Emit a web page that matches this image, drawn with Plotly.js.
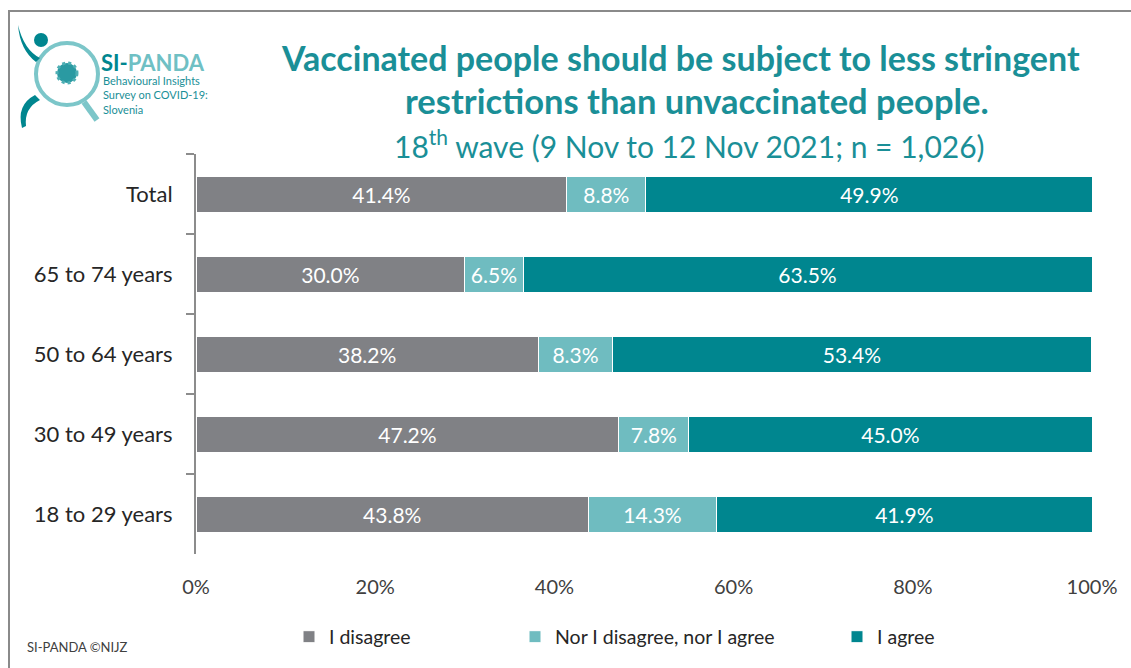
<!DOCTYPE html>
<html>
<head>
<meta charset="utf-8">
<script src="https://cdn.plot.ly/plotly-3.0.1.min.js"></script>
<style>
  html, body { margin: 0; padding: 0; background: #ffffff; }
  #chart { width: 1131px; height: 668px; }
</style>
</head>
<body>
<div id="chart"></div>
<script>
// ---------- data ----------
const categories = ["Total", "65 to 74 years", "50 to 64 years", "30 to 49 years", "18 to 29 years"];
const disagree = [41.4, 30.0, 38.2, 47.2, 43.8];
const neutral  = [8.8, 6.5, 8.3, 7.8, 14.3];
const agree    = [49.9, 63.5, 53.4, 45.0, 41.9];
const seriesNames = ["I disagree", "Nor I disagree, nor I agree", "I agree"];
const xTickVals = [0, 20, 40, 60, 80, 100];
const xTickText = ["0%", "20%", "40%", "60%", "80%", "100%"];

// ---------- styling ----------
const FONT = "Lato, 'Open Sans', 'Noto Sans', sans-serif";
const C_GREY = "#808185";
const C_LIGHT = "#6FBCC0";
const C_DARK = "#00868F";
const C_TITLE = "#1A8F97";

const W = 1131, H = 668;
const L = 196, R = 1092, T = 154, B = 554;
const px = x => (x - L) / (R - L);
const py = y => (B - y) / (B - T);

function barTrace(vals, name, color, legendId) {
  return {
    type: "bar", orientation: "h",
    x: vals, y: categories, name: name,
    marker: { color: color, line: { color: "#ffffff", width: 1 } },
    width: 0.45,
    texttemplate: "%{x:.1f}%",
    textposition: "inside",
    insidetextanchor: "middle",
    constraintext: "none",
    textfont: { color: "#ffffff", size: 21, family: FONT },
    hoverinfo: "skip",
    legend: legendId
  };
}

const data = [
  barTrace(disagree, seriesNames[0], C_GREY, "legend"),
  barTrace(neutral, seriesNames[1], C_LIGHT, "legend2"),
  barTrace(agree, seriesNames[2], C_DARK, "legend3")
];

const legendBase = {
  orientation: "h", yanchor: "middle", xanchor: "left",
  bgcolor: "rgba(0,0,0,0)",
  font: { family: FONT, size: 19.5, color: "#262626" },
  itemwidth: 30, tracegroupgap: 0
};

const layout = {
  width: W, height: H,
  paper_bgcolor: "#ffffff", plot_bgcolor: "#ffffff",
  margin: { l: L, r: W - R, t: T, b: H - B, pad: 0 },
  barmode: "stack",
  font: { family: FONT, color: "#404040" },
  xaxis: {
    range: [0, 100], tickvals: xTickVals, ticktext: xTickText,
    showgrid: false, zeroline: false, showline: false,
    ticks: "", ticklabelstandoff: 19,
    tickfont: { family: FONT, size: 20, color: "#404040" },
    fixedrange: true
  },
  yaxis: {
    type: "category", categoryorder: "array", categoryarray: categories,
    autorange: "reversed",
    showgrid: false, zeroline: false,
    showline: true, linecolor: "#8C8C8C", linewidth: 2,
    ticks: "outside", tickson: "boundaries", ticklen: 8, tickcolor: "#8C8C8C", tickwidth: 2,
    ticklabelstandoff: 17,
    tickfont: { family: FONT, size: 22, color: "#262626" },
    fixedrange: true
  },
  showlegend: true,
  legend:  Object.assign({}, legendBase, { x: px(289), y: py(637) }),
  legend2: Object.assign({}, legendBase, { x: px(515), y: py(637) }),
  legend3: Object.assign({}, legendBase, { x: px(837), y: py(637) }),
  shapes: [
    // outer frame
    { type: "rect", xref: "paper", yref: "paper", x0: px(9), x1: px(1140), y0: py(11), y1: py(680),
      line: { color: "#8A8A8A", width: 2 }, fillcolor: "rgba(0,0,0,0)", layer: "below" },
    // logo: magnifier ring
    { type: "circle", xref: "paper", yref: "paper", x0: px(36), x1: px(98), y0: py(43), y1: py(105),
      line: { color: "#7CC6C9", width: 4 }, fillcolor: "rgba(0,0,0,0)" },
    // logo: handle
    { type: "line", xref: "paper", yref: "paper", x0: px(84), y0: py(102), x1: px(97), y1: py(120),
      line: { color: "#7CC6C9", width: 6 } },
    // logo: virus
    { type: "circle", xref: "paper", yref: "paper", x0: px(57), x1: px(77), y0: py(63), y1: py(83),
      line: { color: "#4FAFB4", width: 3, dash: "dot" }, fillcolor: "#2A9AA2" },
    // logo: figure head
    { type: "circle", xref: "paper", yref: "paper", x0: px(34), x1: px(48), y0: py(33), y1: py(47),
      fillcolor: C_DARK, line: { width: 0 } },
    // logo: raised arm
    { type: "path", xref: "paper", yref: "paper",
      path: "M" + px(18) + "," + py(25) + " Q" + px(24) + "," + py(50) + " " + px(40) + "," + py(58) +
            " L" + px(36) + "," + py(62) + " Q" + px(20) + "," + py(50) + " " + px(18) + "," + py(25) + " Z",
      fillcolor: C_DARK, line: { width: 0 } },
    // logo: leg
    { type: "path", xref: "paper", yref: "paper",
      path: "M" + px(35) + "," + py(95) + " Q" + px(16) + "," + py(105) + " " + px(22) + "," + py(128) +
            " L" + px(26) + "," + py(126) + " Q" + px(24) + "," + py(108) + " " + px(40) + "," + py(100) + " Z",
      fillcolor: C_DARK, line: { width: 0 } }
  ],
  annotations: [
    { xref: "paper", yref: "paper", x: px(680), y: py(57), xanchor: "center", yanchor: "middle",
      text: "<b>Vaccinated people should be subject to less stringent</b>", showarrow: false,
      font: { family: FONT, size: 34, color: C_TITLE } },
    { xref: "paper", yref: "paper", x: px(697), y: py(101), xanchor: "center", yanchor: "middle",
      text: "<b>restrictions than unvaccinated people.</b>", showarrow: false,
      font: { family: FONT, size: 34.5, color: C_TITLE } },
    { xref: "paper", yref: "paper", x: px(689), y: py(144), xanchor: "center", yanchor: "middle",
      text: "18<sup>th</sup> wave (9 Nov to 12 Nov 2021; n = 1,026)", showarrow: false,
      font: { family: FONT, size: 30, color: C_TITLE } },
    { xref: "paper", yref: "paper", x: px(99), y: py(62), xanchor: "left", yanchor: "middle",
      text: "<b><span style='color:#00868F'>SI-</span>PANDA</b>", showarrow: false,
      font: { family: FONT, size: 22, color: "#6FC0C4" } },
    { xref: "paper", yref: "paper", x: px(101), y: py(95), xanchor: "left", yanchor: "middle", align: "left",
      text: "Behavioural Insights<br>Survey on COVID-19:<br>Slovenia", showarrow: false,
      font: { family: FONT, size: 11, color: "#1A8F97" } },
    { xref: "paper", yref: "paper", x: px(25), y: py(647), xanchor: "left", yanchor: "middle",
      text: "SI-PANDA ©NIJZ", showarrow: false,
      font: { family: FONT, size: 13, color: "#404040" } }
  ]
};

Plotly.newPlot("chart", data, layout, { displayModeBar: false, staticPlot: true });
</script>
</body>
</html>
